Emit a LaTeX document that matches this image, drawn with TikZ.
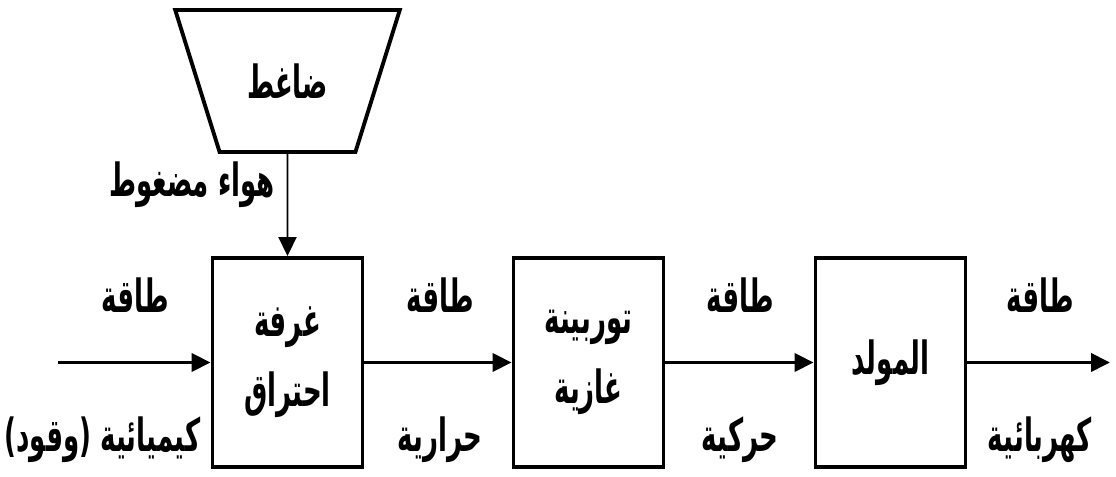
\documentclass[tikz,border=0pt]{standalone}
\usepackage{fontspec}
\newfontfamily\arabicfont[Script=Arabic,FakeStretch=0.57,UprightFont={* Bold}]{DejaVu Sans}
\TeXXeTstate=1
\usepackage{tikz}
\usetikzlibrary{arrows.meta}
\usetikzlibrary{shapes}

\tikzset{ar/.style={font=\arabicfont\fontsize{26}{40}\selectfont}}

\begin{document}
\begin{tikzpicture}
    \useasboundingbox (0,0) rectangle (22.32,9.54);
    \begin{scope}[every node/.style={draw,line width=2.2pt,minimum width=3cm,minimum height=4.18cm,align=center,ar}]
      \node (chamber) at (5.75,2.29) {\beginR غرفة\endR\\\beginR احتراق\endR};
      \node (turbine) at (11.77,2.29) {\beginR توربينة\endR\\\beginR غازية\endR};
      \node (gen) at (17.81,2.29) {\beginR المولد\endR};
    \end{scope}
    \node[draw,line width=2.2pt,trapezium,shape border rotate=180,trapezium stretches=true,
      minimum width=4.5cm,minimum height=2.84cm,trapezium left angle=57,trapezium right angle=57,ar]
      (comp) at (5.75,7.92) {\beginR ضاغط\endR};
    \coordinate (fuelin) at (1.16,2.29);
    \coordinate (elecout) at (22.2,2.29);
    % labels
    \begin{scope}[every node/.style={ar}]
      \node (air) [anchor=east] at (5.62,5.84) {\beginR هواء مضغوط\endR};
      \node (e1a) at (2.7,3.64) {\beginR طاقة\endR};
      \node (e1b) at (2.05,0.74) {\beginR كيميائية (وقود)\endR};
      \node (e2a) at (8.8,3.64) {\beginR طاقة\endR};
      \node (e2b) at (8.8,0.74) {\beginR حرارية\endR};
      \node (e3a) at (14.8,3.64) {\beginR طاقة\endR};
      \node (e3b) at (14.8,0.74) {\beginR حركية\endR};
      \node (e4a) at (20.8,3.64) {\beginR طاقة\endR};
      \node (e4b) at (20.8,0.74) {\beginR كهربائية\endR};
    \end{scope}
    \begin{scope}[every edge/.style={draw=black,line width=2.2pt,-{Triangle[length=0.38cm,width=0.36cm]}}]
      \path (fuelin) edge (chamber);
      \path (chamber) edge (turbine);
      \path (turbine) edge (gen);
      \path (gen) edge (elecout);
      \path (comp.south) edge[line width=1.1pt] (chamber.north);
    \end{scope}
\end{tikzpicture}
\end{document}
